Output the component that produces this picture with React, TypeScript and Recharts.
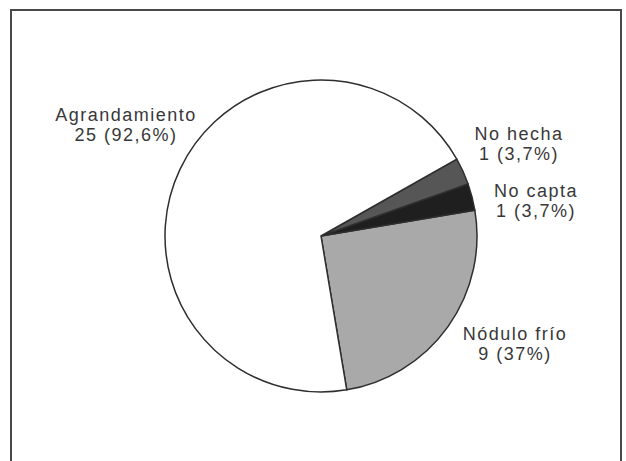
import { Cell, Pie, PieChart } from "recharts";

// slice order follows the drawing direction (counter-clockwise from the lower right)
const names = ["Nódulo frío", "No capta", "No hecha", "Agrandamiento"];
const counts = [9, 1, 1, 25];
const percents = ["37%", "3,7%", "3,7%", "92,6%"];

const colors = ["#a9a9a9", "#1f1f1f", "#565656", "#ffffff"];

// label anchors relative to the pie centre (x centre, first baseline)
const labelOffsets = [
  { dx: 194, dy: 104 },
  { dx: 215, dy: -39 },
  { dx: 198, dy: -96 },
  { dx: -195, dy: -115 },
];

const data = names.map((name, i) => ({
  name,
  value: counts[i],
  pct: percents[i],
}));

const CX = 321;
const CY = 236;

const renderLabel = (props: any) => {
  const { index, name, value, payload } = props;
  const off = labelOffsets[index];
  const x = CX + off.dx;
  const y = CY + off.dy;
  const pct = payload?.pct ?? props.pct;
  return (
    <text
      x={x}
      y={y}
      textAnchor="middle"
      fill="#383838"
      fontFamily="'Liberation Sans', Arial, sans-serif"
      fontSize={18}
      letterSpacing={1.5}
    >
      <tspan x={x} y={y}>
        {name}
      </tspan>
      <tspan x={x} y={y + 20}>
        {`${value} (${pct})`}
      </tspan>
    </text>
  );
};

export default function App() {
  return (
    <div
      style={{
        position: "fixed",
        top: 0,
        left: 0,
        width: 626,
        height: 461,
        background: "#fff",
        overflow: "hidden",
      }}
    >
      <div
        style={{
          position: "absolute",
          left: 10,
          top: 9,
          width: 608,
          height: 470,
          border: "2px solid #4a4a4a",
        }}
      />
      <div style={{ position: "absolute", left: 0, top: 0 }}>
        <PieChart
          width={626}
          height={461}
          margin={{ top: 0, right: 0, bottom: 0, left: 0 }}
        >
          <Pie
            data={data}
            dataKey="value"
            nameKey="name"
            cx={CX}
            cy={CY}
            outerRadius={156}
            startAngle={-80.5}
            endAngle={279.5}
            stroke="#2e2e2e"
            strokeWidth={1.5}
            label={renderLabel}
            labelLine={false}
            isAnimationActive={false}
          >
            {data.map((d, i) => (
              <Cell key={d.name} fill={colors[i]} />
            ))}
          </Pie>
        </PieChart>
      </div>
    </div>
  );
}
